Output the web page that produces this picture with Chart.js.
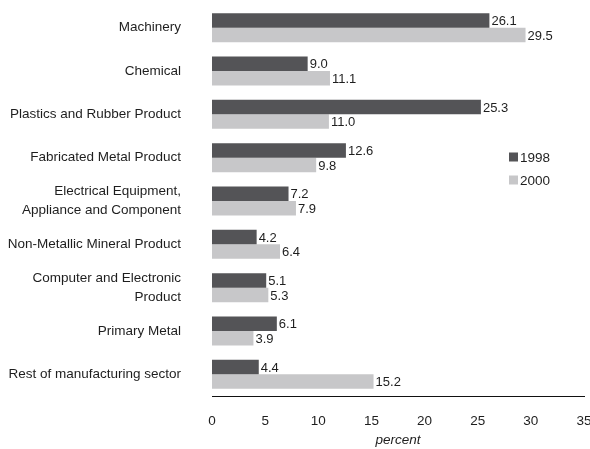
<!DOCTYPE html>
<html>
<head>
<meta charset="utf-8">
<script src="https://cdn.jsdelivr.net/npm/chart.js@4"></script>
<style>
  html, body { margin: 0; padding: 0; background: #fff; }
  #wrap { width: 590px; height: 449px; }
</style>
</head>
<body>
<div id="wrap"><canvas id="myChart"></canvas></div>
<script>
const sectors = [
    'Machinery',
    'Chemical',
    'Plastics and Rubber Product',
    'Fabricated Metal Product',
    ['Electrical Equipment,', 'Appliance and Component'],
    'Non-Metallic Mineral Product',
    ['Computer and Electronic', 'Product'],
    'Primary Metal',
    'Rest of manufacturing sector'
]
const share1998 = [26.1, 9.0, 25.3, 12.6, 7.2, 4.2, 5.1, 6.1, 4.4]
const share2000 = [29.5, 11.1, 11.0, 9.8, 7.9, 6.4, 5.3, 3.9, 15.2]
const xTicks = [0, 5, 10, 15, 20, 25, 30, 35]

const FONT = '"Liberation Sans", Arial, sans-serif'
const TEXT = '#1e1e1e'

// value labels at the end of each bar + legend in the middle right
const barLabels = {
    id: 'barLabels',
    afterDatasetsDraw(chart) {
        const ctx = chart.ctx
        ctx.save()
        ctx.font = '13px ' + FONT
        ctx.fillStyle = TEXT
        ctx.textAlign = 'left'
        ctx.textBaseline = 'middle'
        chart.data.datasets.forEach((ds, i) => {
            chart.getDatasetMeta(i).data.forEach((bar, j) => {
                ctx.fillText(ds.data[j].toFixed(1), bar.x + 2, bar.y + 1)
            })
        })
        // legend
        ctx.font = '13.5px ' + FONT
        const lx = 509, ly = [157, 180]
        chart.data.datasets.forEach((ds, i) => {
            ctx.fillStyle = ds.backgroundColor
            ctx.fillRect(lx, ly[i] - 4.5, 9, 9)
            ctx.fillStyle = TEXT
            ctx.fillText(ds.label, lx + 11, ly[i] + 1)
        })
        ctx.restore()
    }
}

const data = {
    labels: sectors,
    datasets: [
        {
            label: '1998',
            data: share1998,
            backgroundColor: '#545457'
        },
        {
            label: '2000',
            data: share2000,
            backgroundColor: '#c7c7c9'
        }
    ]
}

const config = {
    type: 'bar',
    data: data,
    options: {
        indexAxis: 'y',
        responsive: true,
        maintainAspectRatio: false,
        animation: false,
        datasets: {
            bar: {
                categoryPercentage: 0.67,
                barPercentage: 1.0
            }
        },
        layout: {
            padding: { left: 0, right: 6, top: 6, bottom: 0 }
        },
        scales: {
            x: {
                min: 0,
                max: 35,
                afterBuildTicks: (scale) => {
                    scale.ticks = xTicks.map(v => ({ value: v }))
                },
                afterFit: (scale) => {
                    scale.height = 53
                    scale.paddingLeft = 0
                    scale.paddingRight = 0
                },
                grid: { display: false, drawTicks: false },
                border: { display: true, color: '#111', width: 1 },
                ticks: {
                    color: TEXT,
                    font: { family: FONT, size: 13.5 },
                    padding: 17
                },
                title: {
                    display: true,
                    text: 'percent',
                    color: TEXT,
                    font: { family: FONT, size: 13.5, style: 'italic' },
                    padding: { top: 0, bottom: 1 }
                }
            },
            y: {
                afterFit: (scale) => {
                    scale.width = 212
                    scale.paddingTop = 0
                    scale.paddingBottom = 0
                },
                grid: { display: false, drawTicks: false },
                border: { display: false },
                ticks: {
                    autoSkip: false,
                    color: TEXT,
                    font: { family: FONT, size: 13.5, lineHeight: 1.4 },
                    padding: 31
                }
            }
        },
        plugins: {
            legend: { display: false },
            tooltip: { enabled: false }
        }
    },
    plugins: [barLabels]
}

var myChart = new Chart(document.getElementById('myChart'), config)
</script>
</body>
</html>
